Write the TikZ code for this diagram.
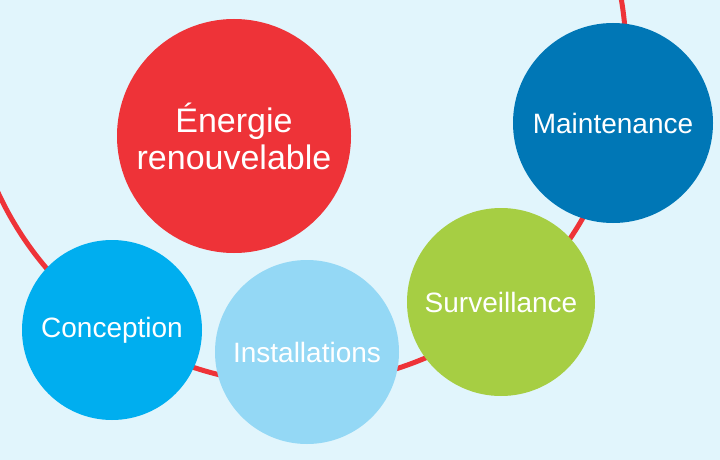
\documentclass[tikz,border=0pt]{standalone}
\usepackage{fontspec}
\setmainfont{Liberation Sans}
\definecolor{bgblue}{HTML}{E1F5FC}
\definecolor{arcred}{HTML}{EE3338}
\definecolor{cred}{HTML}{EE3338}
\definecolor{cdark}{HTML}{0077B6}
\definecolor{cgreen}{HTML}{A6CE43}
\definecolor{clight}{HTML}{94D8F5}
\definecolor{ccyan}{HTML}{00AEEF}
\tikzset{
  bubble/.style={circle, inner sep=0pt, draw=none, text=white, align=center,
    font=\fontsize{28}{34}\selectfont},
}
\begin{document}
\begin{tikzpicture}[x=1pt,y=-1pt]
\fill[bgblue] (0,0) rectangle (720,460);
\useasboundingbox (0,0) rectangle (720,460);
\begin{scope}
\clip (0,0) rectangle (720,460);
\draw[arcred, line width=5pt] (297,55) circle[radius=329];
\end{scope}
\node[bubble, fill=cred, minimum size=234pt, font=\fontsize{34}{37}\selectfont] (energie) at (234,136) {Énergie\\renouvelable};
\node[bubble, fill=cdark, minimum size=200pt] (maint) at (613,123) {Maintenance};
\node[bubble, fill=cgreen, minimum size=188pt] (surv) at (501,302) {Surveillance};
\node[bubble, fill=clight, minimum size=184pt] (inst) at (307,352) {Installations};
\node[bubble, fill=ccyan, minimum size=180pt] (conc) at (112,330) {Conception};
\end{tikzpicture}
\end{document}
